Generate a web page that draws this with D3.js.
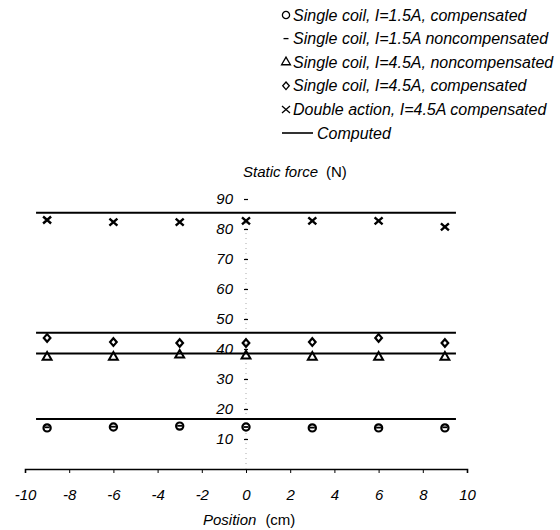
<!DOCTYPE html>
<html>
<head>
<meta charset="utf-8">
<script src="https://cdn.jsdelivr.net/npm/d3@7"></script>
<style>
  body { margin: 0; background: #fff; }
  text { font-family: "Liberation Sans", Arial, sans-serif; fill: #000; }
</style>
</head>
<body>
<div id="chart"></div>
<script>
// data
const positions = [-9, -6, -3, 0, 3, 6, 9];
const coil15Comp = [13.7, 14.0, 14.3, 14.0, 13.7, 13.7, 13.7];
const coil15NonComp = [13.9, 14.1, 14.4, 14.0, 13.8, 13.8, 13.9];
const coil45NonComp = [37.3, 37.3, 38.0, 37.7, 37.3, 37.3, 37.3];
const coil45Comp = [43.7, 42.3, 42.0, 42.0, 42.3, 43.7, 42.0];
const doubleComp = [83.0, 82.3, 82.3, 82.7, 82.7, 82.7, 80.7];
const computedValues = [85.4, 45.4, 38.5, 16.7];
const computedRange = [-9.5, 9.5];
const xTicks = [-10, -8, -6, -4, -2, 0, 2, 4, 6, 8, 10];
const yTicks = [10, 20, 30, 40, 50, 60, 70, 80, 90];
const legendLabels = [
  'Single coil, I=1.5A, compensated',
  'Single coil, I=1.5A noncompensated',
  'Single coil, I=4.5A, noncompensated',
  'Single coil, I=4.5A, compensated',
  'Double action, I=4.5A compensated',
  'Computed'
];

const W = 560, H = 530;
const svg = d3.select('#chart').append('svg')
  .attr('width', W).attr('height', H);

const x = d3.scaleLinear().domain([-10, 10]).range([25, 467]);
const y = d3.scaleLinear().domain([0, 90]).range([469, 199]);

// marker drawers
function drawCircle(g) {
  g.append('circle').attr('r', 3.6).attr('fill', '#fff')
    .attr('stroke', '#000').attr('stroke-width', 2.2);
}
function drawDash(g) {
  g.append('line').attr('x1', -2.5).attr('x2', 2.5)
    .attr('stroke', '#000').attr('stroke-width', 1.8);
}
function drawTriangle(g) {
  g.append('path').attr('d', d3.symbol(d3.symbolTriangle, 34)())
    .attr('fill', 'none').attr('stroke', '#000').attr('stroke-width', 2);
}
function drawDiamond(g) {
  g.append('path').attr('d', 'M0,-3.8L3.3,0L0,3.8L-3.3,0Z')
    .attr('fill', 'none').attr('stroke', '#000').attr('stroke-width', 2.2);
}
function drawCross(g) {
  g.append('path').attr('d', 'M-4,-3.5L4,3.5M-4,3.5L4,-3.5')
    .attr('stroke', '#000').attr('stroke-width', 2.4);
}

// x axis
const xAxis = d3.axisBottom(x).tickValues(xTicks).tickSize(4).tickSizeOuter(4)
  .tickPadding(16).tickFormat(d => d < 0 ? '-' + Math.abs(d) : d);
const gx = svg.append('g').attr('transform', `translate(0,${y(0)})`).call(xAxis);
gx.select('.domain').attr('stroke-width', 1.6);
gx.selectAll('.tick line').attr('stroke-width', 1);
gx.selectAll('.tick text').style('font-size', '15px').style('font-style', 'italic');

// y axis (dotted line with small dash ticks)
svg.append('line')
  .attr('x1', x(0)).attr('x2', x(0))
  .attr('y1', y(82)).attr('y2', y(0))
  .attr('stroke', '#aaa').attr('stroke-width', 1).attr('stroke-dasharray', '1,4');

const yAxis = d3.axisLeft(y).tickValues(yTicks).tickSize(4).tickPadding(11);
const gy = svg.append('g').attr('transform', `translate(${x(0) + 2},0)`).call(yAxis);
gy.select('.domain').remove();
gy.selectAll('.tick line').attr('stroke-width', 1.2);
gy.selectAll('.tick text').style('font-size', '15px').style('font-style', 'italic');

// axis titles
const yt = svg.append('text').attr('x', 243).attr('y', 177).style('font-size', '15px');
yt.append('tspan').style('font-style', 'italic').text('Static force');
yt.append('tspan').attr('dx', 8).text('(N)');
const xt = svg.append('text').attr('x', 203).attr('y', 525).style('font-size', '15px');
xt.append('tspan').style('font-style', 'italic').text('Position');
xt.append('tspan').attr('dx', 9).text('(cm)');

// computed lines
const line = d3.line().x(d => x(d[0])).y(d => y(d[1]));
computedValues.forEach(v => {
  svg.append('path')
    .datum(computedRange.map(p => [p, v]))
    .attr('d', line)
    .attr('fill', 'none').attr('stroke', '#000').attr('stroke-width', 2);
});

// measured series
const series = [
  { values: coil45NonComp, draw: drawTriangle },
  { values: coil45Comp, draw: drawDiamond },
  { values: doubleComp, draw: drawCross },
  { values: coil15Comp, draw: drawCircle },
  { values: coil15NonComp, draw: drawDash }
];
series.forEach(s => {
  svg.append('g').selectAll('g')
    .data(positions.map((p, i) => [p, s.values[i]]))
    .join('g')
    .attr('transform', d => `translate(${x(d[0])},${y(d[1])})`)
    .each(function() { s.draw(d3.select(this)); });
});

// legend
const legendDraw = [drawCircle, drawDash, drawTriangle, drawDiamond, drawCross, null];
const lg = svg.append('g');
legendLabels.forEach((lab, i) => {
  const yy = 15 + i * 23.6;
  const item = lg.append('g').attr('transform', `translate(0,${yy})`);
  if (legendDraw[i]) {
    const sym = item.append('g').attr('transform', 'translate(286,0)');
    legendDraw[i](sym);
    sym.selectAll('*').attr('stroke-width', 1.3);
    item.append('text').attr('x', 293).attr('y', 5.5)
      .style('font-size', '16px').style('font-style', 'italic').text(lab);
  } else {
    item.append('line').attr('x1', 282).attr('x2', 313)
      .attr('stroke', '#000').attr('stroke-width', 1.6);
    item.append('text').attr('x', 317).attr('y', 5.5)
      .style('font-size', '16px').style('font-style', 'italic').text(lab);
  }
});
</script>
</body>
</html>
